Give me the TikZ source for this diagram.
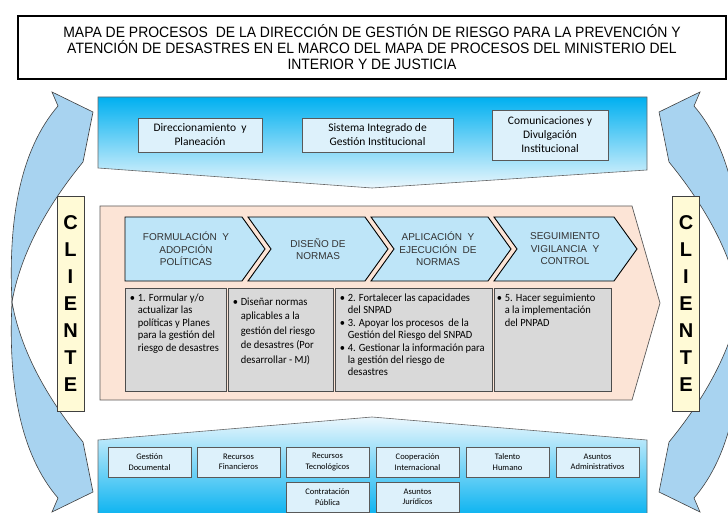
\documentclass[tikz,border=0pt]{standalone}
\usepackage{fontspec}
\setmainfont{Liberation Sans}
\newfontfamily\titlefont[FakeStretch=0.93]{Liberation Sans}
\newfontfamily\carl{Carlito}
\newfontfamily\carlnarrow[FakeStretch=0.95]{Carlito}
\definecolor{cyanc}{RGB}{0,176,240}
\definecolor{palec}{RGB}{235,247,253}
\definecolor{boxblue}{RGB}{221,241,251}
\definecolor{pinkc}{RGB}{252,228,214}
\definecolor{chevblue}{RGB}{190,229,248}
\definecolor{grayc}{RGB}{217,217,217}
\definecolor{yellowc}{RGB}{255,250,214}
\definecolor{arrowblue}{RGB}{168,211,240}
\newcommand\bl{\makebox[8pt][l]{\textbullet}}
\newcommand\ind{\hspace*{8pt}}
\tikzset{
 bandbox/.style={draw=black!65, fill=boxblue, line width=0.6pt, align=center, font=\carl\fontsize{11.5}{14}\selectfont, inner sep=0pt},
 resbox/.style={draw=black!65, fill=boxblue, line width=0.6pt, align=center, font=\carl\fontsize{8.5}{10.5}\selectfont, minimum width=83pt, minimum height=30pt, inner sep=0pt},
 chevtext/.style={align=center, font=\fontsize{10}{12.5}\selectfont, text=black!80},
 chevron/.style={draw=black, line width=0.9pt, fill=chevblue},
 graybox/.style={draw=black!70, fill=grayc, line width=0.8pt, inner sep=0pt},
 graytext/.style={align=left, font=\carlnarrow\fontsize{11}{12.4}\selectfont, inner sep=0pt, anchor=north west},
 clientbox/.style={draw=black!75, fill=yellowc, line width=0.8pt, minimum width=27pt, minimum height=215pt, align=center, inner sep=0pt, font=\bfseries\fontsize{20}{27}\selectfont},
 bigarrow/.style={draw=black!75, fill=arrowblue, line width=0.6pt},
}
\begin{document}
\begin{tikzpicture}[x=1pt,y=-1pt]
\useasboundingbox (0,0) rectangle (728,513);
\clip (0,0) rectangle (728,513);
% title
\node[draw=black, line width=1.5pt, minimum width=708pt, minimum height=63pt, align=center, inner sep=0pt,
  font=\titlefont\fontsize{15}{16}\selectfont] (title) at (372,47.5)
  {MAPA DE PROCESOS \ DE LA DIRECCIÓN DE GESTIÓN DE RIESGO PARA LA PREVENCIÓN Y\\
   ATENCIÓN DE DESASTRES EN EL MARCO DEL MAPA DE PROCESOS DEL MINISTERIO DEL\\
   INTERIOR Y DE JUSTICIA};
% curved arrows
\path[bigarrow] (12,302) .. controls (8,220) and (20,150) .. (58,106) -- (52,92) -- (93,112) -- (83,162) .. controls (56,195) and (22,245) .. (12,302) -- cycle;
\path[bigarrow] (12,302) .. controls (8,384) and (20,454) .. (58,498) -- (52,512) -- (93,492) -- (83,442) .. controls (56,409) and (22,359) .. (12,302) -- cycle;
\path[bigarrow] (740,302) .. controls (744,220) and (732,150) .. (694,106) -- (700,92) -- (659,112) -- (669,162) .. controls (696,195) and (730,245) .. (740,302) -- cycle;
\path[bigarrow] (740,302) .. controls (744,384) and (732,454) .. (694,498) -- (700,512) -- (659,492) -- (669,442) .. controls (696,409) and (730,359) .. (740,302) -- cycle;
% top band
\path[shade, top color=cyanc, bottom color=palec, draw=black!60, line width=0.6pt] (98,97) -- (647,97) -- (647,170) -- (372,188) -- (98,168) -- cycle;
\node[bandbox, minimum width=124pt, minimum height=34pt] (dir) at (200,135) {Direccionamiento \ y\\Planeación};
\node[bandbox, minimum width=151pt, minimum height=34pt] (sig) at (377.5,135) {Sistema Integrado de\\Gestión Institucional};
\node[bandbox, minimum width=116pt, minimum height=50pt] (com) at (550,135) {Comunicaciones y\\Divulgación\\Institucional};
% pink process body
\path[draw=black!65, fill=pinkc, line width=0.7pt] (100,206) -- (632,206) -- (660,303) -- (632,400) -- (100,400) -- cycle;
% chevrons
\path[chevron] (125,217) -- (242,217) -- (265,249) -- (242,281) -- (125,281) -- cycle;
\path[chevron] (248,217) -- (365,217) -- (388,249) -- (365,281) -- (248,281) -- (271,249) -- cycle;
\path[chevron] (371,217) -- (488,217) -- (511,249) -- (488,281) -- (371,281) -- (394,249) -- cycle;
\path[chevron] (494,217) -- (614,217) -- (637,249) -- (614,281) -- (494,281) -- (517,249) -- cycle;
\node[chevtext] (c1) at (186,249) {FORMULACIÓN \ Y\\ADOPCIÓN\\POLÍTICAS};
\node[chevtext] (c2) at (318,249) {DISEÑO DE\\NORMAS};
\node[chevtext] (c3) at (438,249) {APLICACIÓN \ Y\\EJECUCIÓN \ DE\\NORMAS};
\node[chevtext] (c4) at (565,249) {SEGUIMIENTO\\VIGILANCIA \ Y\\CONTROL};
% gray boxes
\node[graybox, minimum width=101pt, minimum height=103pt] (g1) at (175.5,339.5) {};
\node[graybox, minimum width=105pt, minimum height=103pt] (g2) at (280.5,339.5) {};
\node[graybox, minimum width=157pt, minimum height=103pt] (g3) at (413.5,339.5) {};
\node[graybox, minimum width=117pt, minimum height=103pt] (g4) at (552.5,339.5) {};
\node[graytext] (g1t) at ([shift={(5,6)}]g1.north west)
 {\bl 1. Formular y/o\\ \ind actualizar las\\ \ind políticas y Planes\\ \ind para la gestión del\\ \ind riesgo de desastres};
\node[graytext, font=\carlnarrow\fontsize{11}{14.5}\selectfont] (g2t) at ([shift={(5,10)}]g2.north west)
 {\bl Diseñar normas\\ \ind aplicables a la\\ \ind gestión del riesgo\\ \ind de desastres (Por\\ \ind desarrollar - MJ)};
\node[graytext] (g3t) at ([shift={(5,6)}]g3.north west)
 {\bl 2. Fortalecer las capacidades\\ \ind del SNPAD\\ \bl 3. Apoyar los procesos \ de la\\ \ind Gestión del Riesgo del SNPAD\\ \bl 4. Gestionar la información para\\ \ind la gestión del riesgo de\\ \ind desastres};
\node[graytext] (g4t) at ([shift={(3,6)}]g4.north west)
 {\bl 5. Hacer seguimiento\\ \ind a la implementación\\ \ind del PNPAD};
% clientes
\node[clientbox] (cl1) at (70.5,303.5) {C\\L\\I\\E\\N\\T\\E};
\node[clientbox] (cl2) at (686,303.5) {C\\L\\I\\E\\N\\T\\E};
% bottom band
\path[shade, top color=palec, bottom color=cyanc, draw=black!60, line width=0.6pt] (98,440) -- (372,417) -- (647,440) -- (647,520) -- (98,520) -- cycle;
\node[resbox] (r1) at (149.5,462) {Gestión\\Documental};
\node[resbox] (r2) at (238.5,462) {Recursos\\Financieros};
\node[resbox] (r3) at (327.5,462) {Recursos\\Tecnológicos};
\node[resbox] (r4) at (417.5,462) {Cooperación\\Internacional};
\node[resbox] (r5) at (507.5,462) {Talento\\Humano};
\node[resbox] (r6) at (597.5,462) {Asuntos\\Administrativos};
\node[resbox] (r7) at (327.5,497) {Contratación\\Pública};
\node[resbox] (r8) at (417.5,497) {Asuntos\\Jurídicos};
\end{tikzpicture}
\end{document}
